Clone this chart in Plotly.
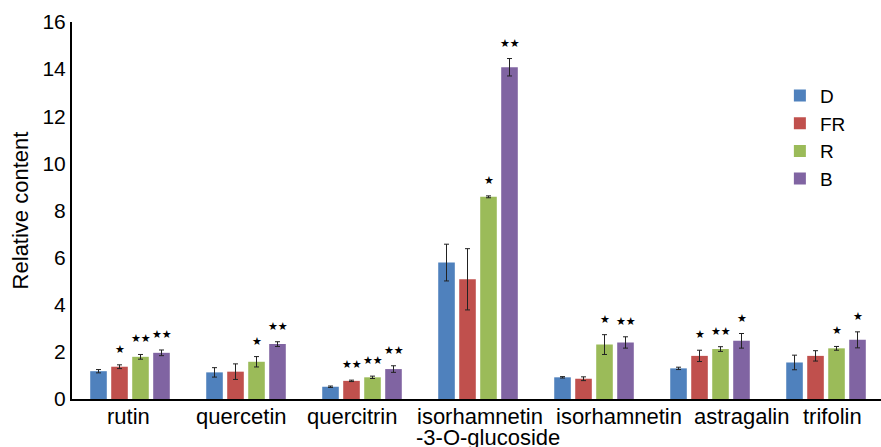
import plotly.graph_objects as go

categories = ["rutin", "quercetin", "quercitrin", "isorhamnetin",
              "isorhamnetin", "astragalin", "trifolin"]
second_line = ["", "", "", "-3-O-glucoside", "", "", ""]
series_names = ["D", "FR", "R", "B"]
colors = ["#4F81BD", "#C0504D", "#9BBB59", "#8064A2"]

D_vals = [1.18, 1.13, 0.52, 5.79, 0.92, 1.30, 1.55]
D_err = [0.07, 0.20, 0.03, 0.78, 0.03, 0.05, 0.31]
FR_vals = [1.37, 1.16, 0.77, 5.08, 0.86, 1.83, 1.83]
FR_err = [0.08, 0.33, 0.03, 1.30, 0.08, 0.24, 0.22]
R_vals = [1.79, 1.58, 0.92, 8.58, 2.31, 2.12, 2.15]
R_err = [0.10, 0.22, 0.05, 0.04, 0.42, 0.10, 0.08]
B_vals = [1.96, 2.33, 1.27, 14.08, 2.40, 2.47, 2.51]
B_err = [0.12, 0.10, 0.14, 0.37, 0.24, 0.31, 0.34]

D_sig = ["", "", "", "", "", "", ""]
FR_sig = ["*", "", "**", "", "", "*", ""]
R_sig = ["**", "*", "**", "*", "*", "**", "*"]
B_sig = ["**", "**", "**", "**", "**", "*", "*"]

y_ticks = [0, 2, 4, 6, 8, 10, 12, 14, 16]

# label placement (style only): horizontal pixel shift of each category label
label_shift_px = [-2, -5, -10, 2, 25, 31, 6]

values = [D_vals, FR_vals, R_vals, B_vals]
errors = [D_err, FR_err, R_err, B_err]
sigs = [D_sig, FR_sig, R_sig, B_sig]
xpos = list(range(len(categories)))

fig = go.Figure()
for name, col, v, e in zip(series_names, colors, values, errors):
    fig.add_trace(go.Bar(
        x=xpos, y=v, name=name,
        marker=dict(color=col, line=dict(width=0)),
        error_y=dict(type="data", array=e, color="#222222", thickness=1, width=2.5),
    ))

offsets = [-31.5, -10.5, 10.5, 31.5]
annotations = []
for s, (v, e, sg) in enumerate(zip(values, errors, sigs)):
    for i in xpos:
        if sg[i]:
            annotations.append(dict(
                x=i, y=v[i] + e[i], xref="x", yref="y",
                text="★" * len(sg[i]), showarrow=False,
                xshift=offsets[s], yshift=7, yanchor="bottom",
                font=dict(size=11, color="black", family="DejaVu Sans"),
            ))
for i in xpos:
    annotations.append(dict(
        x=i, y=-0.046, xref="x", yref="paper", text=categories[i],
        showarrow=False, yanchor="middle", xanchor="center",
        xshift=label_shift_px[i], font=dict(size=22, color="black"),
    ))
    if second_line[i]:
        annotations.append(dict(
            x=i, y=-0.101, xref="x", yref="paper", text=second_line[i],
            showarrow=False, yanchor="middle", xanchor="left", xshift=-64,
            font=dict(size=22, color="black"),
        ))

fig.update_layout(
    width=881, height=447,
    margin=dict(l=72, r=0, t=22, b=48),
    paper_bgcolor="white", plot_bgcolor="white",
    barmode="group", bargap=0.276, bargroupgap=0.21,
    font=dict(family="Liberation Sans, Arial, sans-serif", color="black", size=20),
    showlegend=True,
    legend=dict(x=0.875, y=0.855, xanchor="left", yanchor="top",
                font=dict(size=19), bgcolor="rgba(0,0,0,0)"),
    annotations=annotations,
    xaxis=dict(range=[-0.5, 6.474], tickvals=xpos, showticklabels=False,
               showline=True, linecolor="black", linewidth=2,
               ticks="", showgrid=False, zeroline=False, automargin=False),
    yaxis=dict(range=[0, 16], tickvals=y_ticks, showline=True, linecolor="black",
               linewidth=2, ticks="", showgrid=False, zeroline=False, automargin=False,
               tickfont=dict(size=21),
               title=dict(text="Relative content", font=dict(size=22), standoff=8)),
)

fig.write_html("out.html", config={"displayModeBar": False},
               post_script="document.body.style.margin='0px';document.body.style.overflow='hidden';")
